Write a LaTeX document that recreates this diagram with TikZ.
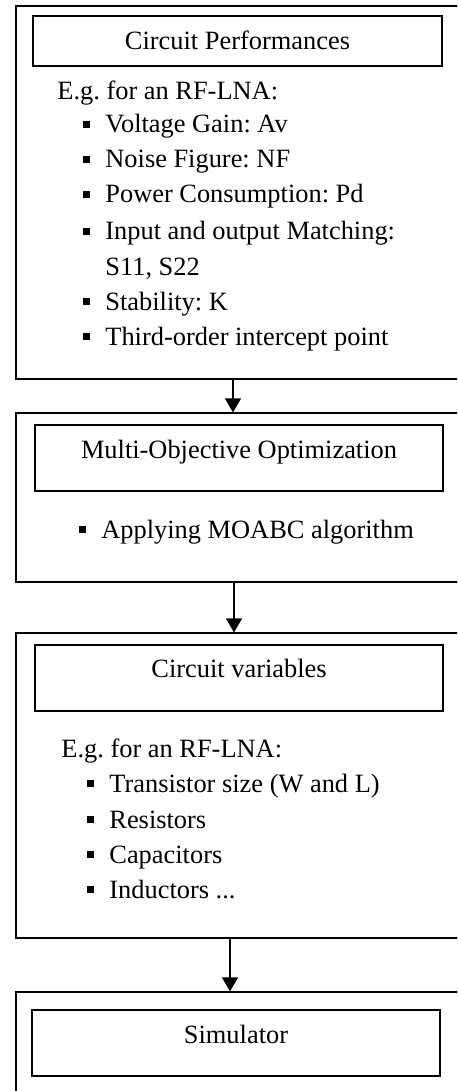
\documentclass[tikz,border=0pt]{standalone}
\usepackage{fontspec}
\setmainfont{Liberation Serif}
\usetikzlibrary{arrows.meta}
\frenchspacing
\newcommand\sqb{\rule[2.5pt]{3.5pt}{3.5pt}\hspace{7.5pt}}
\tikzset{
	outer/.style={draw,line width=0.6pt,minimum width=227pt,inner sep=0pt},
	head/.style={draw,line width=0.6pt,minimum width=204.5pt,inner sep=0pt,anchor=base,text height=16.5pt,text depth=16.5pt},
	txt/.style={anchor=base west,inner sep=0pt},
	flow/.style={-{Triangle[width=8pt,length=7pt]},line width=0.6pt}
}
\begin{document}
\begin{tikzpicture}[x=0.5pt,y=-0.5pt,font=\fontsize{13.2}{16}\selectfont]
		\useasboundingbox(0,0)rectangle(457,1091);
		\clip(0,0)rectangle(457,1091);
		% outer frames
		\node(perf)at(243,192.5)[outer,minimum height=186.5pt]{};
		\node(opt)at(243,497.5)[outer,minimum height=84.5pt]{};
		\node(vars)at(243,785.5)[outer,minimum height=152.5pt]{};
		\node(sim)at(243,1051)[outer,minimum height=59pt]{};
		
		\node(perfhead)at(237.5,50)[head,text height=17pt,text depth=8pt]{Circuit Performances};
		\node(opthead)at(239,458)[head,minimum width=204pt]{Multi-Objective Optimization};
		\node(varshead)at(239,677)[head,minimum width=204pt,text height=16pt,text depth=17pt]{Circuit variables};
		\node(simhead)at(236,1043)[head,minimum width=204pt]{Simulator};
		
		% lists
		\node(eg1)at(57,100)[txt]{E.g. for an RF-LNA:};
		\foreach \y/\t [count=\i] in {133/Voltage Gain: Av,168/Noise Figure: NF,203/Power Consumption: Pd,240/Input and output Matching:,310/Stability: K,345/Third-order intercept point}
		\node(p\i)at(83,\y)[txt]{\sqb\t};
		\node(p7)at(105,275)[txt]{S11, S22};
		
		\node(o1)at(79,538)[txt]{\sqb Applying MOABC algorithm};
		
		\node(eg2)at(61,757)[txt]{E.g. for an RF-LNA:};
		\foreach \y/\t [count=\i] in {792/Transistor size (W and L),828/Resistors,863/Capacitors}
		\node(v\i)at(87,\y)[txt]{\sqb\t};
		\node(v4)at(87,898)[txt]{\sqb Inductors ...};
		
		\draw[flow]([xshift=-5pt]perf.south)--([xshift=-5pt]opt.north);
		\draw[flow]([xshift=-4.5pt]opt.south)--([xshift=-4.5pt]vars.north);
		\draw[flow]([xshift=-6.5pt]vars.south)--([xshift=-6.5pt]sim.north);
	\end{tikzpicture}
\end{document}
